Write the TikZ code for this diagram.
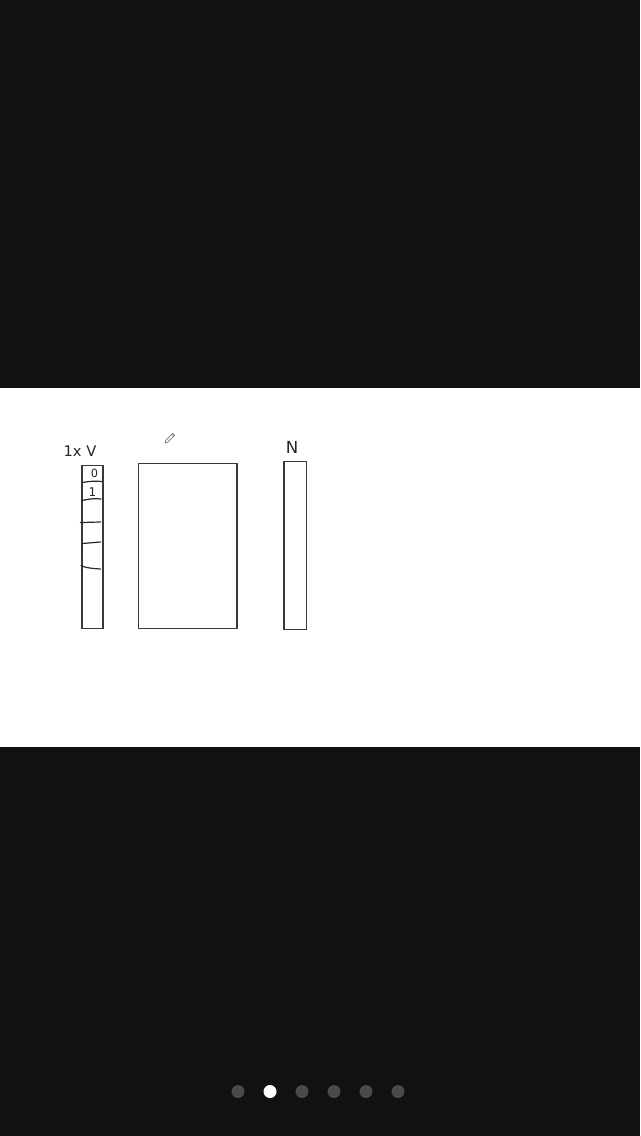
\documentclass[tikz,border=0pt]{standalone}
\usepackage{fontspec}
\setmainfont{DejaVu Sans}
\definecolor{bgdark}{RGB}{17,17,17}
\definecolor{dotgrey}{RGB}{74,74,74}
\begin{document}
\begin{tikzpicture}[x=0.75pt,y=-0.75pt,
  boxstyle/.style={draw=black!78,line width=1.15pt,inner sep=0pt,outer sep=0pt,fill=white},
  ink/.style={draw=black!85,line width=0.9pt,line cap=round},
  hand/.style={inner sep=0pt,text=black!85,font=\fontsize{11}{11}\selectfont},
  dot/.style={circle,inner sep=0pt,minimum size=9.75pt,fill=#1}]
\useasboundingbox (0,0) rectangle (640,1136);
\fill[bgdark] (0,0) rectangle (640,1136);
\fill[white] (0,388) rectangle (640,747);
% boxes
\node[boxstyle,minimum width=15.4pt,minimum height=122.25pt] (vbox) at (92.5,547) {};
\node[boxstyle,minimum width=74pt,minimum height=123.75pt] (mbox) at (187.7,546) {};
\node[boxstyle,minimum width=17pt,minimum height=125.7pt] (nbox) at (295.3,545.5) {};
% labels
\node[hand] (lv) at (80,451) {1x V};
\node[hand,font=\fontsize{12.5}{12.5}\selectfont] (ln) at (292,447) {N};
\node[hand,font=\fontsize{8.5}{8.5}\selectfont] (l0) at (94.5,473.5) {0};
\node[hand,font=\fontsize{9}{9}\selectfont] (l1) at (92.5,492.5) {1};
% cell marks
\draw[ink] (82.5,482.5) .. controls (90,481) and (96,481) .. (102,481.5);
\draw[ink] (82.5,500.5) .. controls (90,498.5) and (96,498.5) .. (101,499);
\draw[ink] (80.5,522.5) -- (100.5,522);
\draw[ink] (82.5,543.5) -- (100.5,542);
\draw[ink] (81,565.5) .. controls (84,567.5) and (92,568.5) .. (100.5,569);
% pencil icon
\begin{scope}[shift={(170.5,437.5)},rotate=45]
  \draw[black!55,line width=0.5pt,fill=white] (-5.5,-1.3) -- (4.5,-1.3) -- (4.5,1.3) -- (-5.5,1.3) -- (-7.8,0) -- cycle;
  \draw[black!55,line width=0.5pt] (3,-1.3) -- (3,1.3);
\end{scope}
% page dots
\node[dot=dotgrey] (d1) at (238,1091.5) {};
\node[dot=white] (d2) at (270,1091.5) {};
\node[dot=dotgrey] (d3) at (302,1091.5) {};
\node[dot=dotgrey] (d4) at (334,1091.5) {};
\node[dot=dotgrey] (d5) at (366,1091.5) {};
\node[dot=dotgrey] (d6) at (398,1091.5) {};
\end{tikzpicture}
\end{document}
